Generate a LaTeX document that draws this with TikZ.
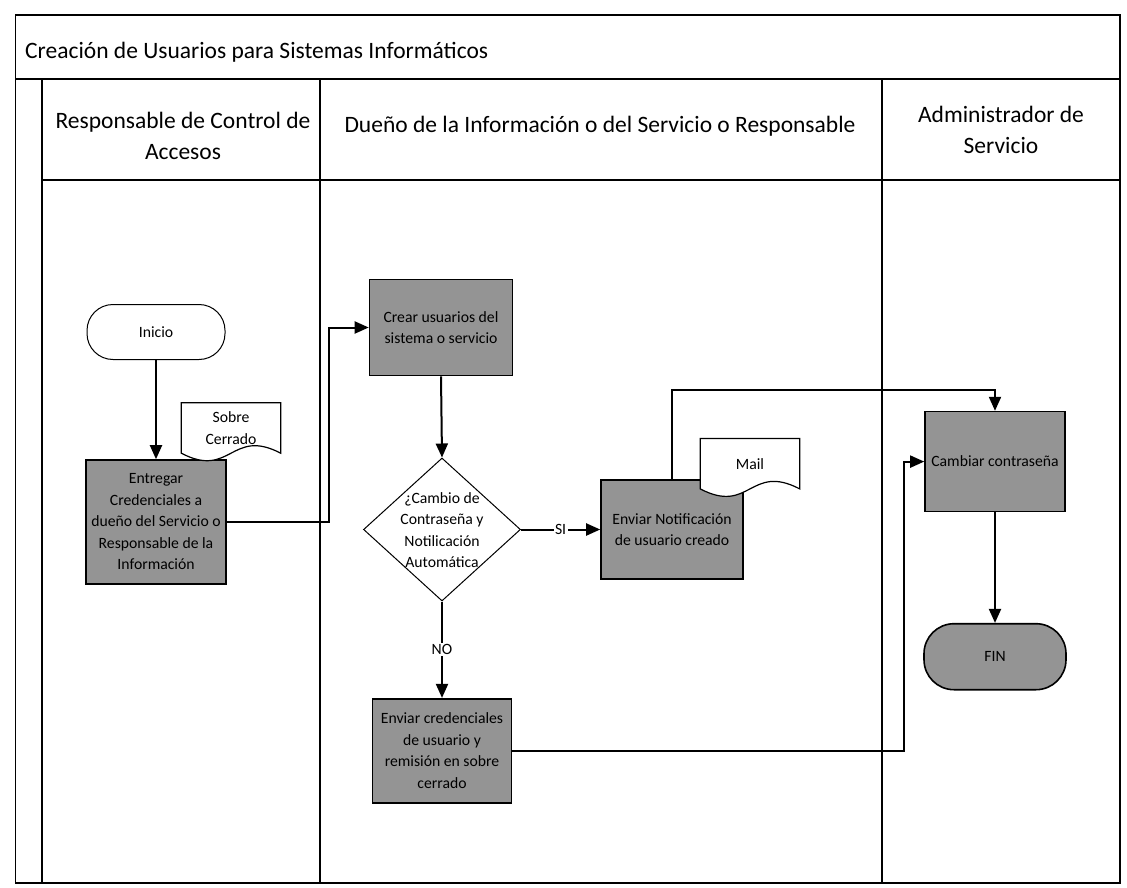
\documentclass[tikz,border=0pt]{standalone}
\usepackage{fontspec}
\setmainfont{Carlito}
\usetikzlibrary{arrows.meta,shapes.geometric,calc}
\begin{document}
\begin{tikzpicture}[x=1pt,y=-1pt,
  frame/.style={line width=1.8pt},
  hdr/.style={font=\fontsize{23.5}{31}\selectfont, align=center, inner sep=0pt},
  lbl/.style={font=\fontsize{15.7}{21.5}\selectfont, align=center},
  proc/.style={lbl, draw, line width=1.6pt, fill=black!42, inner sep=2pt},
  term/.style={lbl, draw, line width=1pt, rounded corners=26pt, minimum width=140pt, minimum height=60pt},
  decis/.style={diamond, draw, line width=1pt, fill=white, inner sep=0pt, minimum width=157pt, minimum height=143pt},
  docbox/.style={inner sep=0pt, minimum width=99pt, minimum height=50pt},
  docline/.style={draw, line width=1.2pt, fill=white},
  arr/.style={line width=2pt, -{Triangle[length=14pt,width=12pt]}},
  cond/.style={lbl, fill=white, inner sep=1.5pt}
]
\useasboundingbox (0,0) rectangle (1127,888);

% pool frame
\draw[frame] (15.5,15) rectangle (1120,883);
\draw[frame] (15.5,79) -- (1120,79);
\draw[frame] (42,79) -- (42,883);
\draw[frame] (42,180) -- (1120,180);
\draw[frame] (320,79) -- (320,883);
\draw[frame] (882,79) -- (882,883);

% titles
\node[hdr, anchor=west] (title) at (25,52) {Creación de Usuarios para Sistemas Informáticos};
\node[hdr] (lane1) at (183,136) {Responsable de Control de\\Accesos};
\node[hdr] (lane2) at (600,126) {Dueño de la Información o del Servicio o Responsable};
\node[hdr] (lane3) at (1001,130) {Administrador de\\Servicio};

% shapes
\node[term, fill=white, minimum width=138pt, minimum height=55pt] (inicio) at (156,332) {Inicio};
\node[proc, minimum width=140pt, minimum height=124pt] (entregar) at (156,522)
  {Entregar\\Credenciales a\\dueño del Servicio o\\Responsable de la\\Información};
\node[proc, minimum width=143pt, minimum height=96pt] (crear) at (441,327.5)
  {Crear usuarios del\\sistema o servicio};
\node[decis] (dec) at (442,529.5) {};
\node[lbl] (dectxt) at (442,530) {¿Cambio de\\Contraseña y\\Notilicación\\Automática};
\node[proc, minimum width=142pt, minimum height=99pt] (envN) at (672,529.5)
  {Enviar Notificación\\de usuario creado};
\node[proc, minimum width=139pt, minimum height=104pt] (envC) at (442,750.7)
  {Enviar credenciales\\de usuario y\\remisión en sobre\\cerrado};
\node[proc, minimum width=140pt, minimum height=100pt] (cambiar) at (995,461.6)
  {Cambiar contraseña};
\node[term, fill=black!42, line width=1.6pt, minimum width=142pt, minimum height=66pt, rounded corners=30pt] (fin) at (995,656.7) {FIN};

% documents
\node[docbox] (sobre) at (231,428) {};
\draw[docline] (sobre.south east) -- (sobre.north east) -- (sobre.north west) -- (sobre.south west)
  .. controls ($(sobre.south)+(0,26)$) and ($(sobre.south)+(0,-26)$) .. (sobre.south east) -- cycle;
\node[lbl] (sobretxt) at (sobre) {Sobre\\Cerrado};

\node[docbox] (mail) at (750,463.7) {};
\draw[docline] (mail.south east) -- (mail.north east) -- (mail.north west) -- (mail.south west)
  .. controls ($(mail.south)+(0,26)$) and ($(mail.south)+(0,-26)$) .. (mail.south east) -- cycle;
\node[lbl] (mailtxt) at (mail) {Mail};

% junctions
\coordinate (j1) at (329,327.5);
\coordinate (j2) at (672,390);
\coordinate (j3) at (904,461.6);

% connectors
\draw[arr] (inicio.south) -- (entregar.north);
\draw[arr] (entregar.east) -| (j1) -- (crear.west);
\draw[arr] (crear.south) -- (dec.north);
\draw[arr] (dec.east) -- node[cond] {SI} (envN.west);
\draw[arr] (dec.south) -- node[cond] {NO} (envC.north);
\draw[arr] (envN.north) -- (j2) -| (cambiar.north);
\draw[arr] (envC.east) -| (j3) -- (cambiar.west);
\draw[arr] (cambiar.south) -- (fin.north);

\end{tikzpicture}
\end{document}
